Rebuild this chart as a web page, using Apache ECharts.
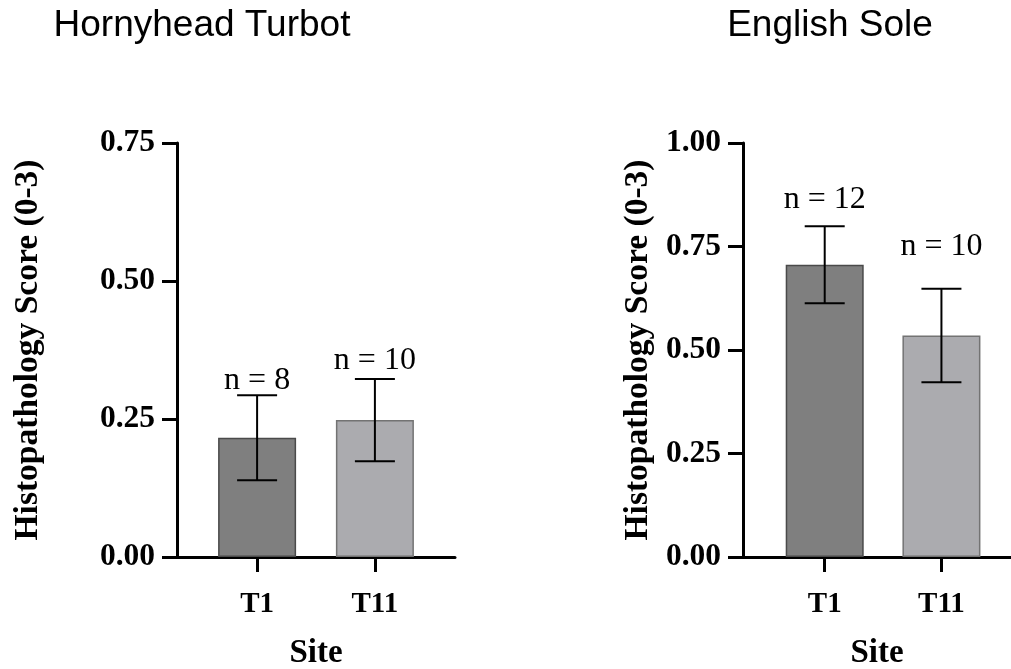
<!DOCTYPE html>
<html>
<head>
<meta charset="utf-8">
<script src="https://cdn.jsdelivr.net/npm/echarts@6/dist/echarts.min.js"></script>
<style>
  html, body { margin: 0; padding: 0; background: #fff; }
  #chart { width: 1011px; height: 669px; }
</style>
</head>
<body>
<div id="chart"></div>
<script>
// data
var sites = ['T1', 'T11'];
var barColors = ['#7f7f7f', '#ababaf'];
var borderColors = ['#4a4a4a', '#737373'];

var turbotMean = [0.216, 0.248];
var turbotErr = [0.077, 0.0745];
var turbotN = ['n = 8', 'n = 10'];
var turbotLabelY = [0.320, 0.356];

var soleMean = [0.706, 0.535];
var soleErr = [0.093, 0.113];
var soleN = ['n = 12', 'n = 10'];
var soleLabelY = [0.863, 0.750];

var serif = '"Liberation Serif", "Times New Roman", serif';
var chart = echarts.init(document.getElementById('chart'));

function barData(mean) {
  var out = [];
  for (var i = 0; i < mean.length; i++) {
    out.push({
      value: [i + 1, mean[i]],
      itemStyle: { color: barColors[i], borderColor: borderColors[i], borderWidth: 1.5 }
    });
  }
  return out;
}

function errData(mean, err) {
  var out = [];
  for (var i = 0; i < mean.length; i++) {
    out.push([i + 1, mean[i] - err[i], mean[i] + err[i]]);
  }
  return out;
}

function labelData(ys, texts) {
  var out = [];
  for (var i = 0; i < ys.length; i++) {
    out.push({ value: [i + 1, ys[i]], name: texts[i] });
  }
  return out;
}

function renderErr(params, api) {
  var lo = api.coord([api.value(0), api.value(1)]);
  var hi = api.coord([api.value(0), api.value(2)]);
  var cap = 20;
  var st = { stroke: '#000', lineWidth: 2 };
  return {
    type: 'group',
    children: [
      { type: 'line', shape: { x1: lo[0], y1: lo[1], x2: hi[0], y2: hi[1] }, style: st },
      { type: 'line', shape: { x1: hi[0] - cap, y1: hi[1], x2: hi[0] + cap, y2: hi[1] }, style: st },
      { type: 'line', shape: { x1: lo[0] - cap, y1: lo[1], x2: lo[0] + cap, y2: lo[1] }, style: st }
    ]
  };
}

function renderLabel(params, api) {
  var p = api.coord([api.value(0), api.value(1)]);
  var names = params.seriesName === 'turbotN' ? turbotN : soleN;
  return {
    type: 'text',
    x: p[0], y: p[1],
    style: {
      text: names[params.dataIndex],
      fontFamily: serif, fontSize: 32, fill: '#000',
      align: 'center', verticalAlign: 'middle'
    }
  };
}

function xAxisOpt(idx, min, max) {
  return {
    type: 'value', gridIndex: idx, min: min, max: max,
    name: 'Site', nameLocation: 'middle', nameGap: 80,
    nameTextStyle: { fontFamily: serif, fontWeight: 'bold', fontSize: 33, color: '#000' },
    axisLine: { lineStyle: { color: '#000', width: 3 } },
    axisTick: { customValues: [1, 2], length: 15, lineStyle: { color: '#000', width: 3 } },
    axisLabel: {
      customValues: [1, 2], margin: 33,
      formatter: function (v) { return sites[Math.round(v) - 1]; },
      fontFamily: serif, fontWeight: 'bold', fontSize: 29, color: '#000'
    },
    splitLine: { show: false }
  };
}

function yAxisOpt(idx, max, gap) {
  return {
    type: 'value', gridIndex: idx, min: 0, max: max, interval: 0.25,
    name: 'Histopathology Score (0-3)', nameLocation: 'middle', nameGap: gap,
    nameTextStyle: { fontFamily: serif, fontWeight: 'bold', fontSize: 33.5, color: '#000' },
    axisLine: { show: true, lineStyle: { color: '#000', width: 3 } },
    axisTick: { show: true, length: 15, lineStyle: { color: '#000', width: 3 } },
    axisLabel: {
      margin: 22,
      formatter: function (v) { return v.toFixed(2); },
      fontFamily: serif, fontWeight: 'bold', fontSize: 31.5, color: '#000'
    },
    splitLine: { show: false }
  };
}

var titleFont = { fontFamily: '"Liberation Sans", Arial, sans-serif', fontWeight: 'normal', fontSize: 37, color: '#000' };

var option = {
  animation: false,
  title: [
    { text: 'Hornyhead Turbot', left: 197, top: 2, textAlign: 'center', textStyle: titleFont },
    { text: 'English Sole', left: 825, top: 2, textAlign: 'center', textStyle: titleFont }
  ],
  grid: [
    { left: 177, top: 143, width: 278, bottom: 112, outerBoundsMode: 'none' },
    { left: 743, top: 143, width: 268, bottom: 112, outerBoundsMode: 'none' }
  ],
  xAxis: [xAxisOpt(0, 0.32, 2.68), xAxisOpt(1, 0.30, 2.596)],
  yAxis: [yAxisOpt(0, 0.75, 132), yAxisOpt(1, 1, 88)],
  series: [
    { type: 'bar', name: 'turbot', xAxisIndex: 0, yAxisIndex: 0, barWidth: 78, data: barData(turbotMean) },
    { type: 'bar', name: 'sole', xAxisIndex: 1, yAxisIndex: 1, barWidth: 78, data: barData(soleMean) },
    { type: 'custom', name: 'turbotErr', xAxisIndex: 0, yAxisIndex: 0, renderItem: renderErr, data: errData(turbotMean, turbotErr), z: 5 },
    { type: 'custom', name: 'soleErr', xAxisIndex: 1, yAxisIndex: 1, renderItem: renderErr, data: errData(soleMean, soleErr), z: 5 },
    { type: 'custom', name: 'turbotN', xAxisIndex: 0, yAxisIndex: 0, renderItem: renderLabel, data: labelData(turbotLabelY, turbotN), z: 6 },
    { type: 'custom', name: 'soleN', xAxisIndex: 1, yAxisIndex: 1, renderItem: renderLabel, data: labelData(soleLabelY, soleN), z: 6 }
  ]
};

chart.setOption(option);
</script>
</body>
</html>
